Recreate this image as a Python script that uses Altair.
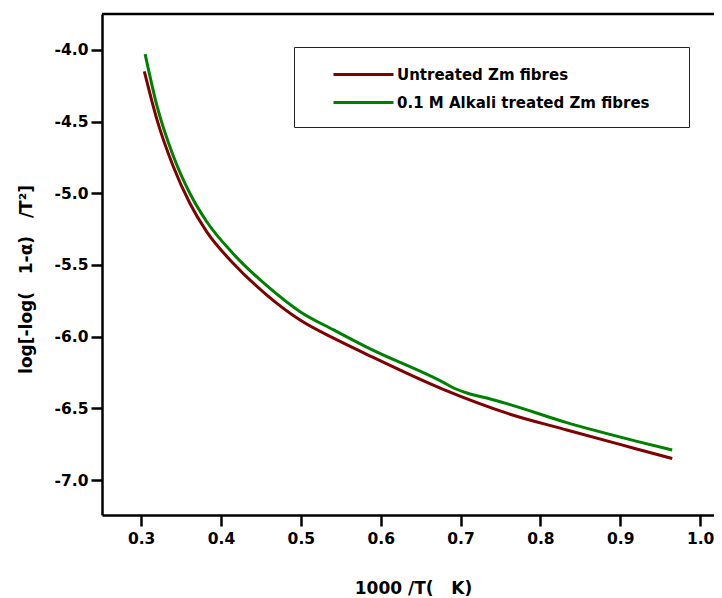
import altair as alt
import pandas as pd

series_names = ["Untreated Zm fibres", "0.1 M Alkali treated Zm fibres"]
series_colors = ["#800000", "#008000"]

untreated_x = [0.304, 0.320, 0.340, 0.361, 0.382, 0.4155, 0.4574, 0.499, 0.541, 0.583, 0.679, 0.758, 0.833, 0.917, 0.965]
untreated_y = [-4.15, -4.49, -4.81, -5.07, -5.268, -5.49, -5.71, -5.884, -6.011, -6.125, -6.37, -6.534, -6.651, -6.778, -6.85]

treated_x = [0.305, 0.320, 0.3405, 0.361, 0.382, 0.4155, 0.4574, 0.499, 0.541, 0.583, 0.679, 0.692, 0.709, 0.734, 0.759, 0.833, 0.917, 0.965]
treated_y = [-4.03, -4.395, -4.744, -5.00, -5.197, -5.423, -5.645, -5.826, -5.953, -6.075, -6.321, -6.36, -6.395, -6.43, -6.469, -6.60, -6.725, -6.791]

x_ticks = [0.3, 0.4, 0.5, 0.6, 0.7, 0.8, 0.9, 1.0]
y_ticks = [-7.0, -6.5, -6.0, -5.5, -5.0, -4.5, -4.0]

NB = "\u00a0"
x_title = "1000 /T(" + NB * 3 + "K)"
y_title = "log[-log(" + NB * 3 + "1-α)" + NB * 3 + "/T²]"

df = pd.concat([
    pd.DataFrame({"x": untreated_x, "y": untreated_y, "series": series_names[0], "k": 0}),
    pd.DataFrame({"x": treated_x, "y": treated_y, "series": series_names[1], "k": 1}),
])

FONT = "DejaVu Sans"
W, H = 612, 501

lines = alt.Chart(df).mark_line(strokeWidth=3, interpolate="monotone").encode(
    x=alt.X("x:Q",
            scale=alt.Scale(domain=[0.251, 0.251 + W / 798.6], nice=False, zero=False),
            axis=alt.Axis(values=x_ticks, format=".1f", title=x_title,
                          titleX=311, titleY=73, titleBaseline="middle",
                          labelPadding=5)),
    y=alt.Y("y:Q",
            scale=alt.Scale(domain=[-7.244, -3.75], nice=False, zero=False),
            axis=alt.Axis(values=y_ticks,
                          labelExpr="(datum.value < 0 ? '-' : '') + format(abs(datum.value), '.1f')",
                          title=y_title, titleFontSize=17,
                          titleX=-76, titleY=265, titleBaseline="middle", titleAlign="center",
                          labelPadding=3)),
    color=alt.Color("series:N",
                    scale=alt.Scale(domain=series_names, range=series_colors),
                    legend=alt.Legend(title=None, orient="none", legendX=192, legendY=33,
                                      strokeColor="#222222", fillColor="white", padding=16,
                                      symbolType="M-3,0H3", symbolSize=400, symbolStrokeWidth=3,
                                      symbolOffset=42, labelOffset=22,
                                      labelExpr="datum.label + '\u2800\u2800'",
                                      labelFont=FONT, labelFontSize=15, labelFontWeight="bold",
                                      labelColor="black", rowPadding=8, labelLimit=600)),
    order=alt.Order("k:Q"),
)

top = alt.Chart(pd.DataFrame({"a": [0]})).mark_rule(color="black", strokeWidth=2.5).encode(
    x=alt.value(0), x2=alt.value(W + 10), y=alt.value(0)
)

chart = alt.layer(lines, top).properties(
    width=W, height=H,
    autosize=alt.AutoSizeParams(type="none"),
    padding={"left": 94, "top": 6, "right": 0, "bottom": 83},
).configure_view(stroke=None).configure_axis(
    grid=False,
    domainColor="black", domainWidth=2.5,
    tickColor="black", tickWidth=2.5, tickSize=11,
    labelFont=FONT, labelFontSize=15.5, labelFontWeight="bold", labelColor="black",
    titleFont=FONT, titleFontSize=17, titleFontWeight="bold", titleColor="black",
)

chart.save("out.html", embed_options={"renderer": "svg", "actions": False})
